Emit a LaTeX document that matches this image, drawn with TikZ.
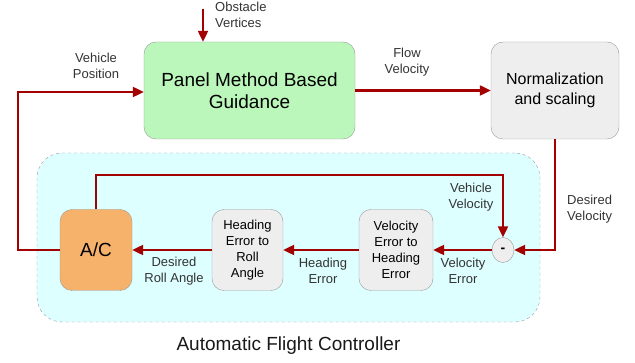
\documentclass[tikz,border=0pt]{standalone}
\usepackage{fontspec}
\setmainfont{Liberation Sans}
\usetikzlibrary{arrows.meta,positioning,shapes.geometric}

\definecolor{sigred}{HTML}{A30000}
\definecolor{guidegreen}{HTML}{BBF7BB}
\definecolor{acorange}{HTML}{F6B26B}
\definecolor{afccyan}{HTML}{DEFFFF}
\definecolor{blockgray}{HTML}{EEEEEE}
\definecolor{edgegray}{HTML}{999999}

\begin{document}
\begin{tikzpicture}[x=1pt,y=-1pt,
    blk/.style={draw=edgegray, fill=blockgray, rounded corners=12pt, align=center, inner sep=0pt, font=\fontsize{13}{16}\selectfont},
    sig/.style={draw=sigred, line width=2.2pt, -{Triangle[length=11pt,width=10pt]}},
    lbl/.style={align=center, inner sep=0pt, text=black!80, font=\fontsize{13}{16}\selectfont}]
    \useasboundingbox (0,0) rectangle (635,363);

    % controller frame
    \node[draw=edgegray, dashed, fill=afccyan, rounded corners=25pt, minimum width=503pt, minimum height=169pt] (afc) at (288.5,237.5) {};
    \node[font=\fontsize{19}{22}\selectfont, text=black!90] (afctitle) at (288.5,346) {Automatic Flight Controller};

    % blocks
    \node[blk, fill=guidegreen, minimum width=211pt, minimum height=97pt, font=\fontsize{19}{22}\selectfont] (panel) at (249.5,90.5) {Panel Method Based\\Guidance};
    \node[blk, minimum width=128pt, minimum height=97pt, font=\fontsize{16}{20}\selectfont] (norm) at (555,90.5) {Normalization\\and scaling};
    \node[blk, fill=acorange, minimum width=72pt, minimum height=81pt, font=\fontsize{19}{22}\selectfont] (ac) at (96,250) {A/C};
    \node[blk, minimum width=71pt, minimum height=81pt] (herr) at (247.5,250) {Heading\\Error to\\Roll\\Angle};
    \node[blk, minimum width=74pt, minimum height=81pt] (verr) at (396,250) {Velocity\\Error to\\Heading\\Error};
    \node[draw=edgegray, fill=blockgray, ellipse, minimum width=22pt, minimum height=25pt, inner sep=0pt, font=\bfseries\fontsize{14}{16}\selectfont] (minus) at (503,250) {-};

    % helper points
    \coordinate (obs) at (203,9);
    \coordinate (vpos) at (18,92);
    \coordinate (vvel) at (503,175);

    % signals
    \draw[sig] (obs) -- (obs |- panel.north);
    \draw[sig] (panel.east) -- (norm.west);
    \draw[sig] (norm.south) |- (minus.east);
    \draw[sig] (ac.north) |- (vvel) -- (minus.north);
    \draw[sig] (minus.west) -- (verr.east);
    \draw[sig] (verr.west) -- (herr.east);
    \draw[sig] (herr.west) -- (ac.east);
    \draw[sig] (ac.west) -| (vpos) -- (panel.west |- vpos);

    % labels
    \node[lbl, anchor=west, align=left] (obslbl) at (215,15) {Obstacle\\Vertices};
    \node[lbl] (vposlbl) at (96,66) {Vehicle\\Position};
    \node[lbl] (flowlbl) at (407,62) {Flow\\Velocity};
    \node[lbl, anchor=west, align=left] (desvlbl) at (567,209) {Desired\\Velocity};
    \node[lbl] (vvellbl) at (471,197) {Vehicle\\Velocity};
    \node[lbl] (verrlbl) at (463,271) {Velocity\\Error};
    \node[lbl] (herrlbl) at (323,271) {Heading\\Error};
    \node[lbl] (rolllbl) at (174,271) {Desired\\Roll Angle};
\end{tikzpicture}
\end{document}
